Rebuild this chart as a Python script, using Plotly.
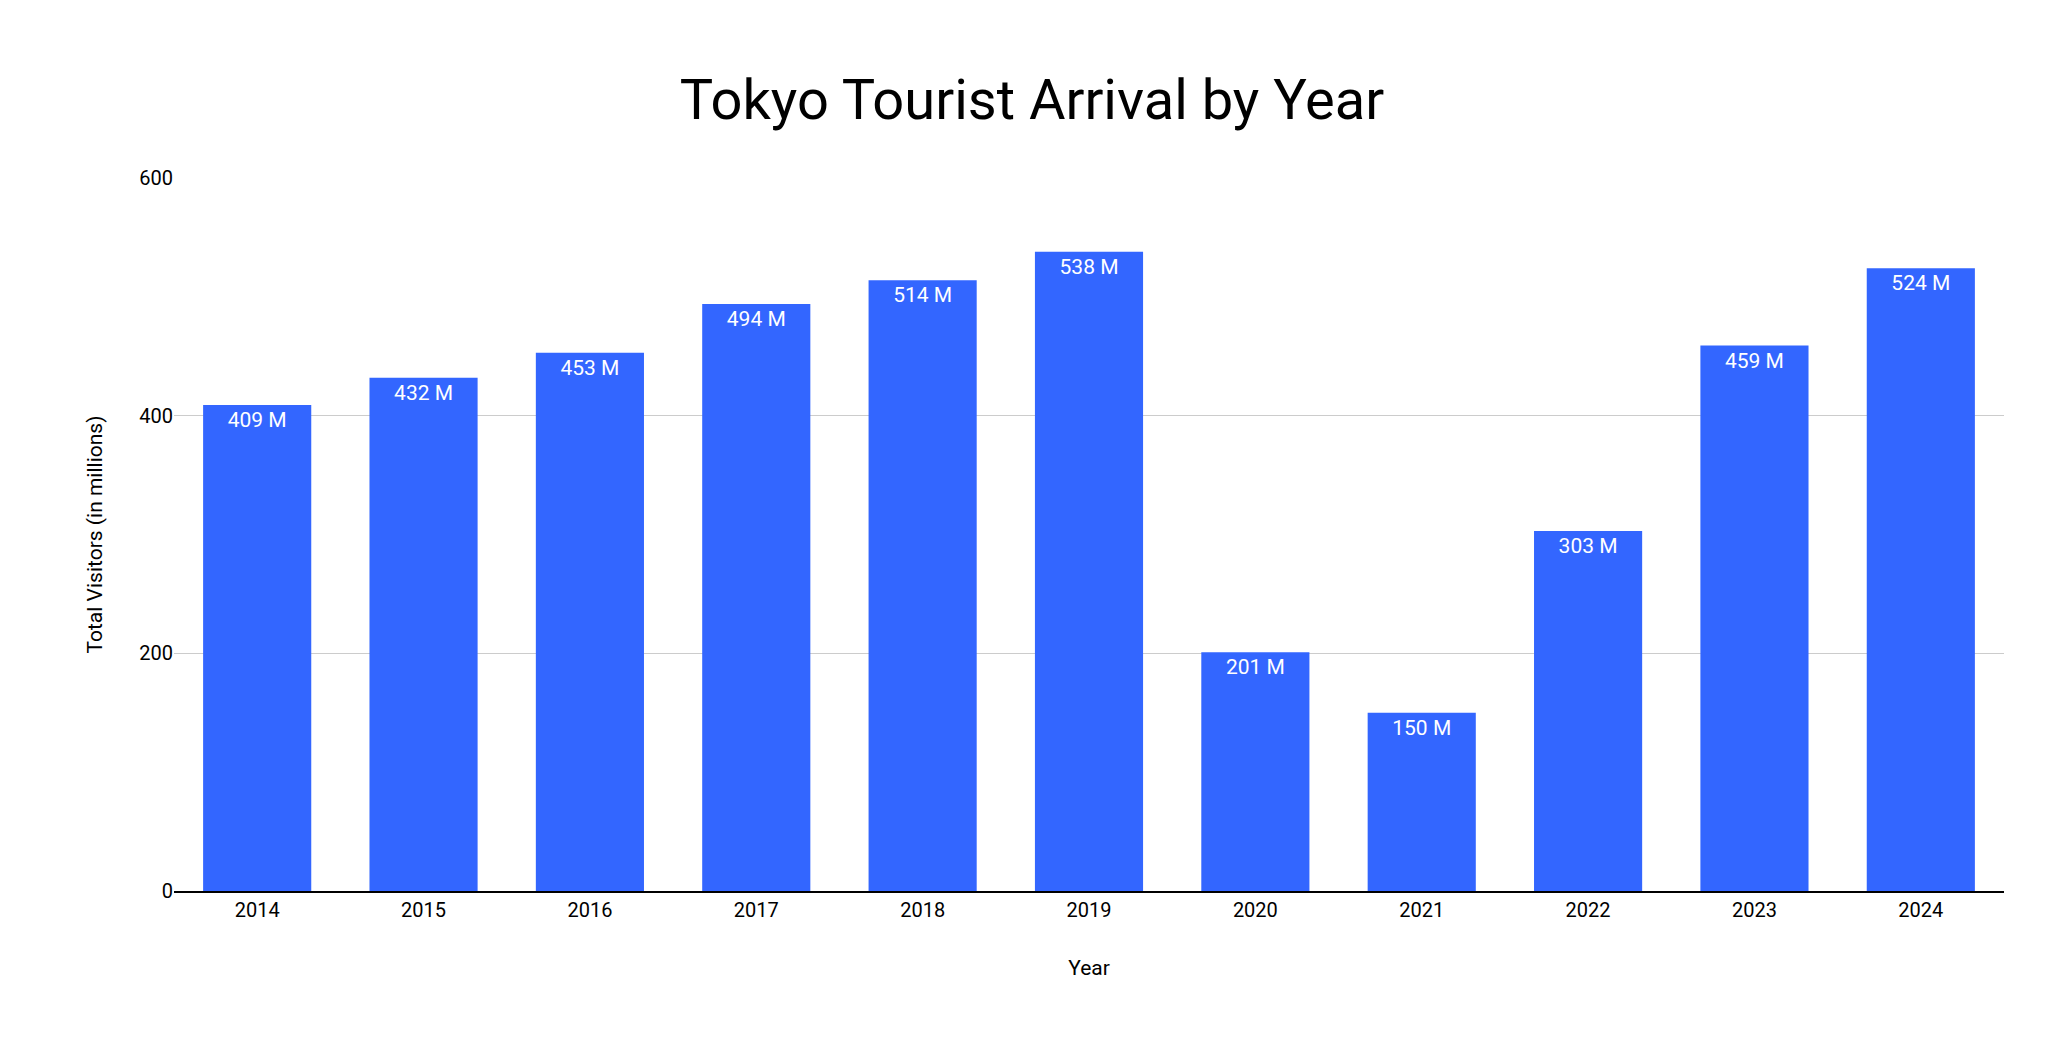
import plotly.graph_objects as go

years = ["2014","2015","2016","2017","2018","2019","2020","2021","2022","2023","2024"]
visitors = [409, 432, 453, 494, 514, 538, 201, 150, 303, 459, 524]
labels = [f"{v} M" for v in visitors]

fig = go.Figure(go.Bar(
    x=years, y=visitors, text=labels, textposition="inside", insidetextanchor="end",
    textfont=dict(color="white", size=21, family="Roboto"),
    marker=dict(color="#3366ff", line=dict(width=0)), width=0.65,
))
fig.update_layout(
    width=2048, height=1037, paper_bgcolor="white", plot_bgcolor="white",
    margin=dict(l=166, r=52, t=170, b=154),
    title=dict(text="Tokyo Tourist Arrival by Year", x=0.5, xanchor="center", y=0.912, yanchor="middle",
               font=dict(size=56, family="Roboto", color="black")),
    font=dict(family="Roboto", color="black"),
    showlegend=False, bargap=0.35,
)
fig.update_xaxes(title=dict(text="Year", font=dict(size=21), standoff=40), tickfont=dict(size=20),
                 showline=True, linecolor="black", linewidth=1.5, ticks="", showgrid=False)
fig.update_yaxes(title=dict(text="Total Visitors (in millions)", font=dict(size=21), standoff=30),
                 tickfont=dict(size=20), range=[0, 600], tickvals=[0, 200, 400, 600],
                 showgrid=True, gridcolor="#cccccc", gridwidth=1, zeroline=False, showline=False,
                 ticklen=0)
fig.write_html("out.html")
